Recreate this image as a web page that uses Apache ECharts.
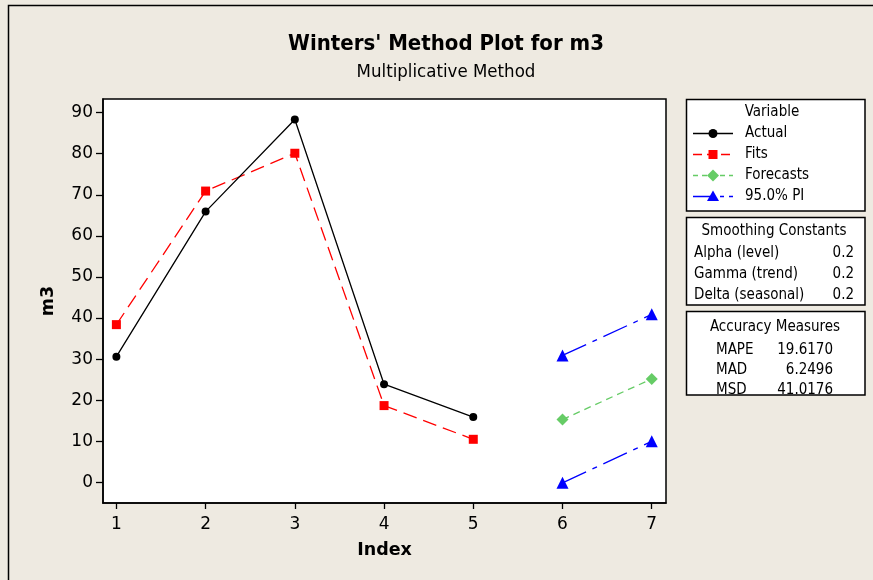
<!DOCTYPE html>
<html>
<head>
<meta charset="utf-8">
<script src="https://cdn.jsdelivr.net/npm/echarts@6/dist/echarts.min.js"></script>
<style>
html,body{margin:0;padding:0;background:#EEEAE1;}
#c{width:873px;height:580px;}
</style>
</head>
<body>
<div id="c"></div>
<script>
// ---- data ----
const indexValues = [1, 2, 3, 4, 5];
const actual = [30.6, 65.9, 88.3, 23.9, 15.9];
const fits = [38.4, 70.9, 80.1, 18.7, 10.5];
const forecastIndex = [6, 7];
const forecasts = [15.3, 25.2];
const upperPI = [30.9, 40.9];
const lowerPI = [-0.1, 10.0];
const xTicks = [1, 2, 3, 4, 5, 6, 7];
const yTicks = [0, 10, 20, 30, 40, 50, 60, 70, 80, 90];
const smoothing = [["Alpha (level)", "0.2"], ["Gamma (trend)", "0.2"], ["Delta (seasonal)", "0.2"]];
const accuracy = [["MAPE", "19.6170"], ["MAD", "6.2496"], ["MSD", "41.0176"]];
const legendItems = ["Actual", "Fits", "Forecasts", "95.0% PI"];

const FONT = '"DejaVu Sans Condensed", "DejaVu Sans", sans-serif';
const FONT_W = '"DejaVu Sans", sans-serif';
const pair = (xs, ys) => xs.map((x, i) => [x, ys[i]]);

const chart = echarts.init(document.getElementById('c'), null, {renderer: 'canvas'});

// ---- legend / info boxes as graphics ----
const g = [];
g.push({type: 'rect', shape: {x: 8.5, y: 5.5, width: 900, height: 600}, style: {fill: 'none', stroke: '#000', lineWidth: 1.5}, silent: true});
const boxX = 686.5, boxW = 178.5;
g.push({type: 'rect', shape: {x: boxX, y: 99.5, width: boxW, height: 111.5}, style: {fill: '#fff', stroke: '#000', lineWidth: 1.5}});
g.push({type: 'rect', shape: {x: boxX, y: 217.5, width: boxW, height: 87.5}, style: {fill: '#fff', stroke: '#000', lineWidth: 1.5}});
g.push({type: 'rect', shape: {x: boxX, y: 311.5, width: boxW, height: 83.5}, style: {fill: '#fff', stroke: '#000', lineWidth: 1.5}});
const txt = (x, y, t, align) => ({type: 'text', x: x, y: y, z: 10, style: {text: t, font: 'normal 15px ' + FONT, fill: '#000', textAlign: align || 'left', textVerticalAlign: 'middle'}});
g.push(txt(772, 112.5, 'Variable', 'center'));
const ly = [133.5, 154.5, 175.5, 196.5];
const lstyles = [
  {color: '#000', dash: null},
  {color: '#FF0000', dash: [9, 5]},
  {color: '#66CC66', dash: [5, 4]},
  {color: '#0000FF', dash: [22, 5, 4, 5]}
];
legendItems.forEach((name, i) => {
  const s = lstyles[i];
  const y = ly[i];
  g.push({type: 'line', shape: {x1: 693, y1: y, x2: 733, y2: y}, style: {stroke: s.color, lineWidth: 1.3, lineDash: s.dash}});
  let sym;
  if (i === 0) sym = {type: 'circle', shape: {cx: 713, cy: y, r: 4.5}, style: {fill: '#000'}};
  if (i === 1) sym = {type: 'rect', shape: {x: 708.5, y: y - 4.5, width: 9, height: 9}, style: {fill: '#FF0000'}};
  if (i === 2) sym = {type: 'polygon', shape: {points: [[713, y - 6], [719, y], [713, y + 6], [707, y]]}, style: {fill: '#66CC66'}};
  if (i === 3) sym = {type: 'polygon', shape: {points: [[713, y - 6], [719, y + 4.5], [707, y + 4.5]]}, style: {fill: '#0000FF'}};
  g.push(sym);
  g.push(txt(745, ly[i], name));
});
g.push(txt(774, 231.5, 'Smoothing Constants', 'center'));
[253, 274, 295].forEach((y, i) => {
  g.push(txt(694, y, smoothing[i][0]));
  g.push(txt(854, y, smoothing[i][1], 'right'));
});
g.push(txt(775, 327, 'Accuracy Measures', 'center'));
[350, 370, 390].forEach((y, i) => {
  g.push(txt(716, y, accuracy[i][0]));
  g.push(txt(833, y, accuracy[i][1], 'right'));
});

const option = {
  backgroundColor: '#EEEAE1',
  animation: false,
  textStyle: {fontFamily: FONT},
  title: {
    text: "Winters' Method Plot for m3",
    subtext: 'Multiplicative Method',
    left: 441, textAlign: 'center', top: 28,
    itemGap: 8,
    textStyle: {fontFamily: FONT, fontSize: 22, fontWeight: 'bold', color: '#000'},
    subtextStyle: {fontFamily: FONT, fontSize: 18.5, color: '#000'}
  },
  grid: {left: 103, top: 99, right: 207, bottom: 77, show: true, backgroundColor: '#fff', borderColor: '#000', borderWidth: 1.5},
  xAxis: {
    type: 'value', min: 0.85, max: 7.16,
    name: 'Index', nameLocation: 'middle', nameGap: 38,
    nameTextStyle: {fontFamily: FONT_W, fontSize: 17.5, fontWeight: 'bold', color: '#000'},
    axisLine: {show: true, onZero: false, lineStyle: {color: '#000', width: 1.5}},
    axisTick: {show: true, length: 6, customValues: xTicks, lineStyle: {color: '#000', width: 1.3}},
    axisLabel: {customValues: xTicks, fontFamily: FONT_W, fontSize: 17, color: '#000', margin: 13},
    splitLine: {show: false}
  },
  yAxis: {
    type: 'value', min: -5, max: 93.3,
    name: 'm3', nameLocation: 'middle', nameGap: 46, nameRotate: 90,
    nameTextStyle: {fontFamily: FONT_W, fontSize: 17.5, fontWeight: 'bold', color: '#000'},
    axisLine: {show: true, onZero: false, lineStyle: {color: '#000', width: 1.5}},
    axisTick: {show: true, length: 7, customValues: yTicks, lineStyle: {color: '#000', width: 1.3}},
    axisLabel: {customValues: yTicks, fontFamily: FONT_W, fontSize: 17, color: '#000', margin: 10},
    splitLine: {show: false}
  },
  series: [
    {name: 'Actual', type: 'line', data: pair(indexValues, actual), symbol: 'circle', symbolSize: 8,
     itemStyle: {color: '#000'}, lineStyle: {color: '#000', width: 1.3}, z: 3},
    {name: 'Fits', type: 'line', data: pair(indexValues, fits), symbol: 'rect', symbolSize: 9,
     itemStyle: {color: '#FF0000'}, lineStyle: {color: '#FF0000', width: 1.3, type: [14, 7]}, z: 2},
    {name: 'Forecasts', type: 'line', data: pair(forecastIndex, forecasts), symbol: 'diamond', symbolSize: 12,
     itemStyle: {color: '#66CC66'}, lineStyle: {color: '#66CC66', width: 1.3, type: [7, 5]}},
    {name: '95.0% PI', type: 'line', data: pair(forecastIndex, upperPI), symbol: 'triangle', symbolSize: 12,
     itemStyle: {color: '#0000FF'}, lineStyle: {color: '#0000FF', width: 1.3, type: [26, 7, 5, 7]}},
    {name: '95.0% PI', type: 'line', data: pair(forecastIndex, lowerPI), symbol: 'triangle', symbolSize: 12,
     itemStyle: {color: '#0000FF'}, lineStyle: {color: '#0000FF', width: 1.3, type: [26, 7, 5, 7]}}
  ],
  graphic: g
};
chart.setOption(option);
</script>
</body>
</html>
